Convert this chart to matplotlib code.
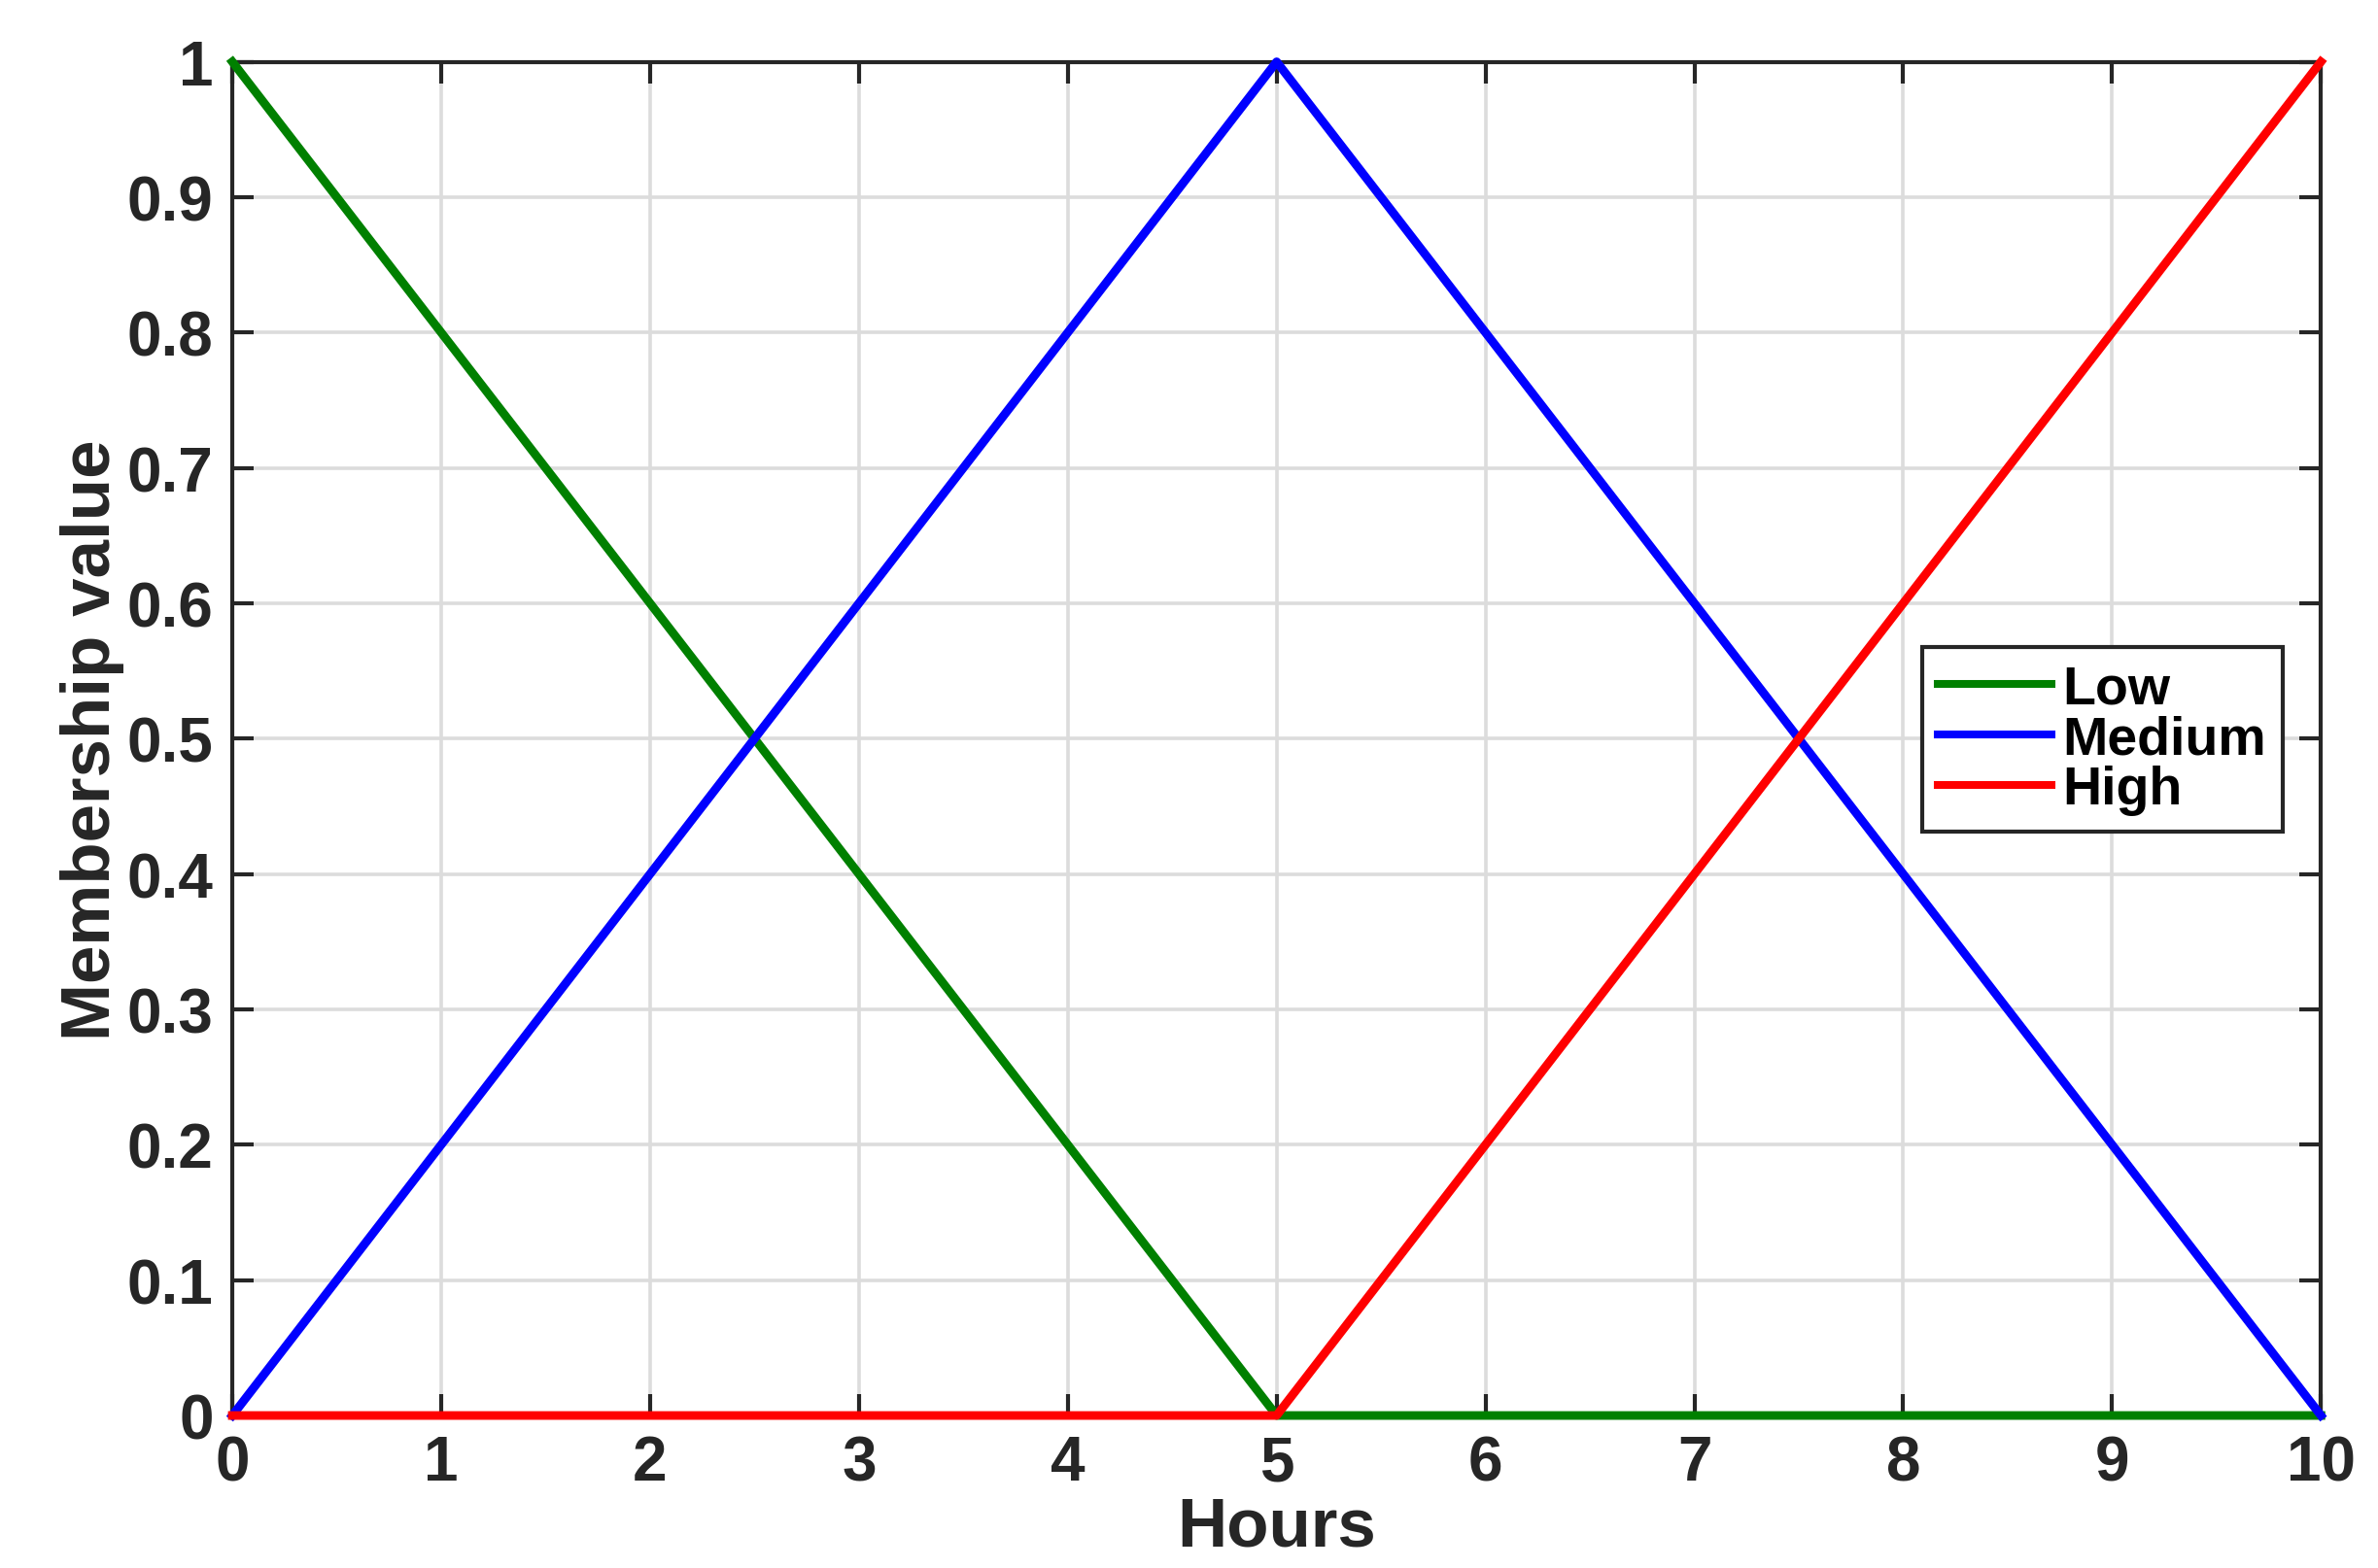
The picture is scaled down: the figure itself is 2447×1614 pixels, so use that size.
import matplotlib.pyplot as plt
from matplotlib.ticker import FormatStrFormatter

# Data
hours = [0, 5, 10]
low = [1, 0, 0]
medium = [0, 1, 0]
high = [0, 0, 1]

labels = ["Low", "Medium", "High"]
colors = ["#008000", "#0000ff", "#ff0000"]

plt.rcParams["font.family"] = ["Liberation Sans", "DejaVu Sans"]
plt.rcParams["font.weight"] = "bold"

fig = plt.figure(figsize=(12.235, 8.075), dpi=200)
ax = fig.add_axes([0.0977, 0.0972, 0.8783, 0.8628])

for y, lab, c in zip([low, medium, high], labels, colors):
    ax.plot(hours, y, color=c, linewidth=3.2, label=lab, clip_on=False, zorder=3)

ax.set_xlim(0, 10)
ax.set_ylim(0, 1)
ax.set_xticks(range(0, 11))
ax.set_yticks([i / 10 for i in range(11)])
ax.yaxis.set_major_formatter(FormatStrFormatter("%g"))

text_color = "#262626"
ax.grid(True, color="#dcdcdc", linewidth=1.3)
ax.set_axisbelow(True)
for s in ax.spines.values():
    s.set_color(text_color)
    s.set_linewidth(1.5)
ax.tick_params(direction="in", length=8, width=1.5, colors=text_color,
               labelsize=23, top=True, right=True, pad=7)
for t in ax.get_xticklabels() + ax.get_yticklabels():
    t.set_fontweight("bold")

ax.set_xlabel("Hours", fontsize=25.5, fontweight="bold", color=text_color, labelpad=1)
ax.set_ylabel("Membership value", fontsize=25.5, fontweight="bold", color=text_color, labelpad=1)

leg = ax.legend(loc="center left", bbox_to_anchor=(0.809, 0.4995), fontsize=20,
                handlelength=2.1, handletextpad=0.2, borderpad=0.3,
                labelspacing=0.0, fancybox=False, framealpha=1,
                edgecolor=text_color, borderaxespad=0)
leg.get_frame().set_linewidth(1.5)
for t in leg.get_texts():
    t.set_fontweight("bold")
for line in leg.get_lines():
    line.set_linewidth(2.9)

fig.savefig("out.png", dpi=200)
